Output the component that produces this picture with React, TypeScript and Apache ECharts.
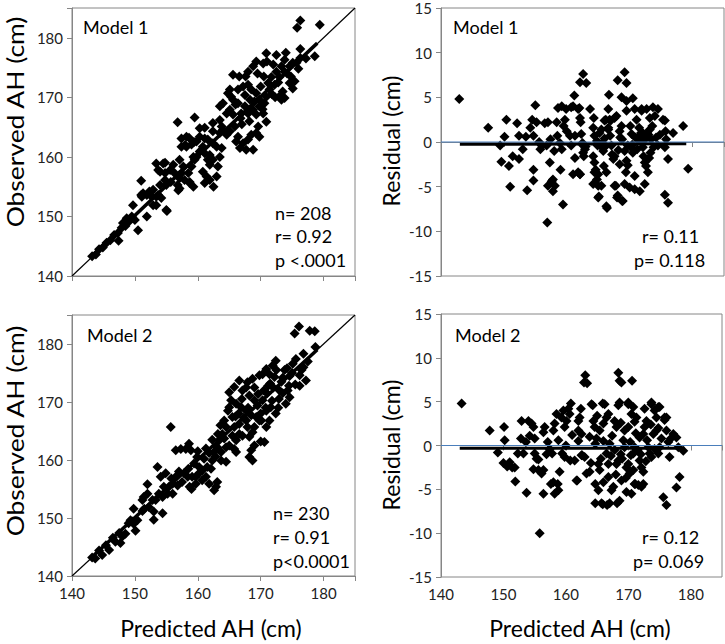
import React, { useEffect, useRef } from "react";
import * as echarts from "echarts";

// ---------- DATA ----------
const xTicks = [140, 150, 160, 170, 180];
const yTicksAH = [140, 150, 160, 170, 180];
const yTicksResid = [-15, -10, -5, 0, 5, 10, 15];

// Model 1: predicted vs observed adult height (cm)
const model1Fit: number[][] = [
  [143.2,143.3],[143.8,143.6],[144.3,144.5],[144.9,144.8],[145.5,145.6],[146.1,146.0],[146.7,146.9],[147.3,147.2],[147.9,148.1],[148.5,148.4],[149.1,149.2],[149.6,149.8],
  [147.4,145.9],[148.1,148.9],[148.7,149.7],[149.5,150.0],[150.0,149.4],[149.7,151.9],[150.5,147.7],[151.9,150.0],[151.0,153.6],[151.0,156.0],
  [151.3,153.9],[151.1,153.3],[152.3,154.2],[152.9,151.9],[153.4,151.9],[152.4,153.6],[151.9,153.6],[152.9,154.5],[153.7,153.6],[153.4,153.3],[154.2,153.1],
  [155.0,155.3],[155.1,150.9],[155.0,151.1],[153.4,158.9],[154.5,158.9],[154.0,157.5],[154.8,157.3],[154.8,156.1],[154.0,155.3],[153.7,157.8],[154.8,159.0],
  [155.7,155.8],[156.1,158.7],[155.6,157.8],[156.3,157.3],[156.8,155.3],[157.1,154.7],[156.9,154.4],[156.8,165.8],[157.1,157.0],[157.1,159.5],[157.4,163.1],
  [157.4,161.7],[158.2,161.7],[158.2,163.4],[159.0,162.1],[157.7,158.4],[157.4,157.3],[157.1,156.4],[157.9,156.1],[158.7,155.6],[159.3,155.0],[158.7,155.8],
  [159.0,158.4],[158.5,157.3],[159.3,160.0],[158.0,162.0],[158.6,163.2],[159.4,162.5],[159.5,166.6],[159.5,159.5],[160.3,164.8],[160.3,163.4],[159.8,162.6],
  [160.8,161.7],[161.1,160.6],[160.3,160.9],[159.8,160.0],[161.9,160.3],[161.6,159.5],[161.9,158.7],[162.4,159.5],[160.8,157.5],[161.4,156.7],[161.9,156.1],
  [161.1,155.6],[162.5,155.0],[163.0,156.7],[163.5,160.0],[163.2,158.4],[163.0,161.7],[163.8,161.5],[161.1,164.9],[162.4,165.7],[163.5,164.0],[162.4,164.3],
  [161.6,162.9],[162.4,162.3],[161.1,163.1],[164.0,164.5],[163.8,165.1],[163.5,166.2],[165.1,167.9],[165.6,167.1],[164.6,167.3],[164.0,169.0],[163.5,168.5],
  [165.1,171.3],[165.3,170.1],[164.8,170.7],[166.4,171.3],[165.6,169.6],[166.4,169.0],[165.9,165.1],[165.1,164.3],[164.6,163.7],[166.4,163.4],[166.1,162.6],
  [167.2,162.3],[166.7,161.5],[168.8,161.2],[167.7,161.2],[168.0,162.9],[168.5,163.7],[169.8,163.4],[169.3,164.0],[169.6,165.1],[170.9,165.9],[169.3,167.1],
  [170.4,167.3],[170.6,169.0],[169.8,168.5],[167.5,168.5],[168.0,167.3],[168.8,167.9],[166.9,167.3],[167.5,170.4],[168.3,169.6],[169.0,169.3],[169.8,169.6],
  [168.5,171.3],[169.3,170.7],[168.0,172.1],[166.6,173.5],[165.6,173.8],[168.0,174.3],[167.6,173.5],[169.3,176.0],[168.8,175.2],[170.4,175.7],[170.9,177.4],
  [172.5,177.1],[171.2,172.4],[172.2,172.1],[171.4,171.3],[170.9,170.1],[173.8,176.3],[173.3,175.2],[172.5,174.3],[171.7,173.4],[173.0,173.4],[173.8,174.3],
  [174.6,172.4],[175.1,171.5],[173.5,171.0],[173.0,170.2],[173.8,169.9],[173.3,169.6],[175.4,172.7],[174.6,175.2],[175.1,175.8],[175.7,175.8],[176.3,176.6],
  [176.3,178.1],[178.6,176.9],[176.3,182.9],[175.8,181.7],[179.4,182.2],[177.2,176.5],[176.0,174.8],[174.2,174.0],[172.0,175.5],[170.5,173.5],[171.8,170.5],
  [172.8,172.5],[174.8,173.5],[167.0,165.5],[168.2,166.0],[166.0,168.8],[167.2,171.8],[170.0,171.8],[174.0,177.5],[171.0,176.0],[169.5,174.0],[172.3,170.0],
  [170.3,168.0],[166.8,166.5]
];

// Model 1: predicted AH vs residual (cm)
const model1Resid: number[][] = [
  [142.9,4.8],[147.5,1.6],[149.4,-0.4],[149.6,-2.2],[150.4,2.5],[150.1,0.6],[150.8,-2.7],[151.0,-5.0],[151.4,-1.6],[152.1,2.1],[152.4,-1.9],[152.4,0.7],
  [153.0,-0.8],[153.5,0.6],[153.7,-5.4],[154.2,1.6],[154.5,2.5],[154.7,0.7],[154.7,-3.1],[154.7,-4.3],[155.0,4.1],[155.2,2.2],[155.6,0.0],[156.0,-0.4],
  [156.5,2.1],[156.8,-0.4],[157.0,2.2],[157.3,-2.3],[157.4,0.3],[157.0,-4.9],[157.6,-4.4],[157.8,-4.2],[158.1,-4.9],[157.8,-5.5],[158.4,2.2],[158.5,0.7],
  [156.9,-9.0],[158.9,-0.1],[159.2,-0.8],[159.0,-3.1],[159.4,-7.0],[158.6,3.8],[159.2,4.0],[159.5,1.8],[159.7,2.5],[159.9,3.7],[160.5,0.7],[160.7,-0.4],
  [161.0,4.0],[161.2,5.2],[161.3,0.7],[161.3,-1.8],[161.0,-3.6],[162.0,3.8],[162.1,2.7],[162.2,2.2],[162.3,0.9],[162.5,-0.1],[162.6,-1.2],[162.7,-1.6],
  [162.1,-3.6],[162.1,6.7],[162.6,7.6],[163.1,6.6],[163.7,3.7],[164.2,1.6],[164.4,0.7],[164.2,-1.6],[164.4,-2.3],[164.6,-3.1],[164.3,2.7],[164.8,-4.2],
  [165.0,-4.9],[164.2,-4.7],[165.1,-6.1],[165.2,1.0],[165.3,-0.4],[165.7,-0.1],[165.8,-1.0],[165.9,-2.7],[166.2,2.5],[166.3,-3.4],[166.4,-7.4],[166.6,1.6],
  [166.6,3.7],[166.7,5.3],[166.9,0.7],[167.1,-0.4],[167.2,-1.4],[167.4,-1.9],[167.6,-1.6],[167.8,-4.9],[167.9,2.9],[168.0,-6.2],[168.1,6.9],[168.4,-2.5],
  [168.5,0.5],[168.7,1.8],[168.8,0.3],[168.8,-6.6],[168.7,5.0],[169.2,7.8],[169.2,-1.0],[169.4,-3.4],[169.5,-2.1],[169.7,-2.6],[169.5,3.5],[169.7,-0.4],
  [169.5,4.6],[169.5,6.6],[170.1,1.8],[170.3,0.9],[170.4,-0.3],[170.5,-1.2],[170.0,-5.1],[170.8,-5.3],[170.5,4.9],[171.1,2.5],[171.5,0.1],[171.6,-5.5],
  [170.8,-3.8],[171.9,3.7],[172.1,-0.6],[172.2,-1.6],[172.5,0.5],[172.8,1.0],[172.4,-2.3],[172.6,-2.7],[172.4,-4.7],[172.9,-3.4],[173.1,-1.8],[173.3,-1.2],
  [173.4,0.3],[173.6,1.8],[173.7,3.9],[174.5,3.7],[174.2,0.5],[174.5,-0.4],[173.2,2.7],[174.0,2.9],[175.3,2.5],[175.6,2.4],[175.6,-0.6],[175.8,0.3],
  [176.1,-1.9],[175.7,1.2],[175.6,-5.9],[176.1,-6.8],[176.9,1.0],[178.5,1.8],[179.3,-3.0],[171.8,1.0],[172.3,0.2],[171.2,-0.8],[170.9,0.5],[173.8,-0.6],
  [174.8,0.8],[163.0,-0.5],[160.0,1.2],[155.8,-0.8],[158.0,-1.0],[166.0,0.4],[164.8,0.1],[168.2,-0.9],[171.5,1.6],[173.0,0.8],[167.0,2.4],[164.4,-3.4],
  [165.0,-3.6],[165.5,-4.9],[167.6,-4.9],[169.2,-4.7],[161.8,-3.4],[162.1,-3.6],[162.6,-0.4],[162.9,-0.8],[164.9,-0.4],[166.0,-0.6],[170.5,-0.8],[171.6,0.7],
  [172.1,1.0],[173.2,1.4],[166.0,2.4],[166.8,2.5],[167.6,2.7],[165.5,1.4],[166.6,1.4],[168.4,1.2],[160.7,3.9],[161.8,3.7],[170.8,3.7],[171.9,3.5],
  [172.7,3.7],[165.0,-6.2],[166.3,-7.2],[168.1,-6.0],[168.9,-6.6]
];

// Model 2: predicted vs observed adult height (cm)
const model2Fit: number[][] = [
  [143.2,143.2],[143.7,143.0],[144.3,144.4],[144.8,143.6],[145.4,145.3],[145.9,144.5],[146.5,146.6],[146.9,145.9],[147.5,147.4],[148.0,146.8],[148.5,147.3],
  [149.0,149.1],[149.6,149.4],[147.7,145.7],[150.1,147.8],[149.3,149.6],[149.8,149.0],[150.4,149.6],[149.8,151.6],[151.2,151.2],[151.5,151.6],[153.0,149.7],
  [154.4,150.8],[152.8,153.1],[152.2,151.9],[153.0,151.1],[152.0,154.2],[151.4,153.6],[151.2,153.1],[152.0,155.8],[153.8,154.2],[154.4,153.6],[153.3,153.1],
  [153.6,158.8],[154.1,157.1],[154.9,157.7],[154.6,155.4],[156.0,155.9],[155.4,155.4],[155.2,154.2],[156.0,154.2],[157.0,158.0],[156.5,157.1],[157.8,157.7],
  [158.4,157.1],[159.1,157.1],[155.7,165.7],[157.3,161.9],[156.5,161.7],[158.6,162.8],[158.1,161.9],[158.9,161.7],[159.9,160.5],[159.4,159.4],[160.2,158.8],
  [160.2,157.7],[159.7,157.1],[160.7,156.5],[161.3,157.1],[161.8,155.9],[162.9,155.4],[162.6,154.8],[163.1,156.2],[159.7,155.9],[159.0,155.0],[158.7,155.4],
  [161.3,162.0],[162.3,159.9],[161.5,158.8],[160.7,158.2],[162.1,158.5],[162.6,161.4],[163.1,162.2],[163.4,163.4],[164.5,162.2],[163.7,161.4],[163.7,159.9],
  [164.5,159.7],[164.5,165.7],[163.9,164.5],[164.2,163.7],[165.0,162.5],[165.8,161.9],[166.1,161.4],[166.1,163.4],[166.6,164.5],[165.5,164.2],[167.7,166.8],
  [166.6,166.2],[165.5,167.4],[165.8,165.7],[167.9,165.7],[167.1,164.2],[168.2,164.0],[169.0,162.5],[168.5,161.7],[168.2,160.5],[168.7,159.9],[170.6,163.1],
  [169.0,165.7],[168.7,164.8],[169.8,166.8],[170.9,165.7],[171.4,166.8],[170.9,168.5],[171.6,169.1],[172.4,168.0],[167.7,168.5],[168.5,167.7],[169.3,167.4],
  [170.1,166.8],[168.2,171.1],[169.0,170.3],[169.5,169.4],[170.3,170.3],[165.3,170.3],[166.1,169.7],[166.9,169.1],[165.0,169.1],[166.6,173.7],[165.8,172.6],
  [165.0,171.7],[167.1,172.0],[167.7,172.5],[168.7,174.0],[167.9,173.4],[170.9,175.7],[170.3,174.8],[169.8,174.6],[172.4,177.1],[171.9,176.3],[171.4,174.8],
  [172.2,174.3],[175.1,176.6],[175.6,177.4],[176.8,176.0],[176.2,174.6],[177.2,173.7],[176.2,172.8],[174.3,172.0],[174.6,170.8],[174.0,169.7],[173.5,171.5],
  [172.9,170.5],[173.3,173.5],[174.6,174.5],[176.1,183.0],[175.4,181.8],[177.8,182.3],[178.6,182.2],[178.7,179.5],[176.8,178.3],[171.0,171.5],[172.0,172.5],
  [171.5,173.2],[170.5,172.0],[173.8,175.5],[175.0,175.0],[170.0,168.0],[172.8,169.0],[174.5,172.8],[176.5,175.5],[177.5,177.0],[169.0,172.5],[166.0,167.5],
  [164.2,166.8],[163.2,164.5],[162.3,163.5],[158.5,158.5],[157.5,156.2],[156.8,155.6],[155.8,156.8],[161.0,160.2],[160.0,161.5],[167.0,170.5],[168.0,169.0],
  [166.5,168.0],[171.8,170.2],[173.0,172.0],[175.5,173.0],[170.0,163.2],[173.5,174.2],[174.2,175.8],[172.5,175.5],[171.2,172.8],[169.6,171.4],[170.8,169.0],
  [167.3,167.3],[164.8,168.5],[163.6,166.0],[162.8,160.6],[161.8,161.2]
];

// Model 2: predicted AH vs residual (cm)
const model2Resid: number[][] = [
  [143.3,4.8],[147.8,1.7],[149.1,-0.8],[150.1,2.1],[150.2,0.6],[150.0,-2.0],[151.0,-1.9],[151.4,-2.5],[151.8,-2.5],[151.9,-4.1],[152.9,2.8],[152.8,0.8],
  [153.2,-0.9],[153.7,-5.4],[154.0,2.8],[154.5,2.5],[154.2,1.1],[154.8,2.1],[155.0,0.8],[154.8,-2.7],[155.0,-0.9],[155.3,-1.5],[155.8,-10.0],[155.6,-2.8],
  [156.1,-3.2],[156.4,-2.8],[156.4,-5.5],[156.4,1.5],[156.6,2.1],[157.1,0.4],[157.4,-0.4],[157.6,-4.4],[158.0,-4.2],[158.0,1.7],[158.2,2.5],[158.5,3.6],
  [158.2,-5.5],[158.7,-4.4],[158.8,-5.1],[159.0,-3.0],[159.3,3.2],[159.6,4.0],[159.4,-0.9],[159.8,-1.3],[159.8,2.1],[160.1,2.8],[160.4,4.2],[160.6,3.6],
  [160.8,4.8],[161.4,-1.7],[161.7,-4.0],[162.0,2.8],[162.2,3.2],[162.0,1.7],[162.5,1.3],[162.4,4.2],[162.5,-1.1],[163.0,-1.3],[162.9,7.2],[163.1,8.0],
  [163.4,7.1],[163.3,-3.2],[163.8,-3.0],[164.1,4.7],[164.4,2.8],[164.6,2.1],[164.7,0.2],[164.9,0.8],[164.7,-4.4],[165.2,-5.1],[164.7,-6.6],[165.7,-6.6],
  [165.2,-2.1],[165.4,-2.8],[165.4,1.7],[166.0,2.5],[166.2,4.7],[166.5,3.2],[166.8,3.6],[166.5,-0.9],[166.8,-2.1],[166.8,-3.6],[167.0,-6.6],[167.3,-5.1],
  [167.6,-4.7],[167.8,2.8],[168.1,2.1],[168.1,-2.1],[168.4,-1.7],[168.4,8.3],[168.6,7.4],[168.9,7.2],[168.6,4.9],[168.6,-6.3],[168.9,-4.0],[169.2,0.6],
  [169.4,-0.2],[169.4,1.7],[170.0,2.1],[169.7,-2.5],[170.0,-2.1],[170.2,-3.2],[169.7,-5.3],[170.5,-5.5],[170.0,4.7],[170.6,7.4],[170.8,4.4],[170.5,3.6],
  [170.8,-0.9],[171.0,-0.2],[171.0,2.7],[171.3,3.2],[171.0,-4.4],[171.6,-4.5],[172.1,-4.7],[171.8,-1.7],[172.1,-2.5],[172.4,-3.0],[171.8,0.9],[172.4,1.3],
  [172.6,2.1],[172.9,2.8],[172.6,4.2],[173.2,-0.2],[173.4,-0.9],[173.7,-1.3],[173.7,4.7],[174.2,4.0],[174.5,3.2],[174.0,1.3],[174.5,1.7],[174.8,4.4],
  [175.0,-0.2],[174.8,-0.9],[175.3,0.8],[175.8,3.2],[176.1,1.7],[176.4,0.4],[175.6,-5.9],[176.1,-6.8],[176.6,-1.3],[177.7,-4.8],[178.2,-3.6],[178.8,-0.6],
  [178.0,-0.2],[177.2,1.3],[177.7,0.9],[165.9,-6.7],[166.6,-6.8],[168.2,-6.6],[161.8,-4.0],[160.7,-1.7],[162.6,-1.1],[171.1,-4.4],[172.4,-4.4],[164.3,4.6],
  [165.9,4.8],[168.4,4.6],[170.0,4.9],[173.7,4.9],[175.0,4.4],[175.8,2.9],[176.1,3.2],[166.0,0.5],[167.0,0.2],[167.8,-0.5],[168.8,-1.0],[170.3,0.4],
  [171.5,-0.5],[172.0,-1.0],[173.0,0.6],[174.2,-0.4],[163.8,1.0],[162.0,0.5],[161.0,1.2],[160.0,0.0],[158.8,0.6],[167.2,-1.2],[169.0,-1.5],[170.4,-1.1],
  [171.2,1.4],[172.8,-1.8],[165.6,-1.5],[164.0,-2.0],[166.0,-4.2],[168.0,-3.3],[169.6,-3.7],[170.8,-2.8],[167.4,1.1],[168.8,2.6],[165.0,3.4],[173.6,2.4],
  [174.8,2.0],[176.8,0.8],[155.6,-1.6],[156.9,-1.0],[157.8,-0.9],[153.6,0.4],[152.3,-0.9],[150.6,-2.4]
];

const fit1Line = [[143, 143.2], [179, 179.1]];
const fit2Line = [[143, 143.1], [179, 179.0]];
const resid1Line = [[143, -0.25], [179, -0.2]];
const resid2Line = [[143, -0.3], [179, -0.3]];
const identityLine = [[140, 140], [185, 185]];
const zeroLine = [[140, 0], [185, 0]];

const FONT = "Lato, 'Open Sans', sans-serif";
const GRAY = "#868686";

export default function App() {
  const ref = useRef<HTMLDivElement>(null);
  useEffect(() => {
    if (!ref.current) return;
    const chart = echarts.init(ref.current, undefined, { renderer: "svg" });

    const grids = [
      { left: 72, top: 8, width: 283, height: 268 },
      { left: 441, top: 8, width: 283, height: 268 },
      { left: 72, top: 315, width: 283, height: 261 },
      { left: 441, top: 314, width: 283, height: 263 },
    ].map((g) => ({ ...g, show: true, borderColor: GRAY, borderWidth: 1, backgroundColor: "transparent" }));

    const xAxis = [0, 1, 2, 3].map((i) => ({
      type: "value",
      gridIndex: i,
      min: xTicks[0],
      max: 185,
      interval: xTicks[1] - xTicks[0],
      splitLine: { show: false },
      axisLine: { lineStyle: { color: GRAY, width: 1 } },
      axisTick: { show: true, inside: false, length: 5, lineStyle: { color: GRAY } },
      axisLabel: {
        show: i >= 2,
        margin: 9,
        fontFamily: FONT,
        fontSize: 15,
        color: "#222",
        formatter: (v: number) => (xTicks.includes(v) ? String(v) : ""),
      },
    }));

    const yAxis = [0, 1, 2, 3].map((i) => {
      const resid = i % 2 === 1;
      const ticks = resid ? yTicksResid : yTicksAH;
      return {
        type: "value",
        gridIndex: i,
        min: ticks[0],
        max: resid ? 15 : 185,
        interval: ticks[1] - ticks[0],
        splitLine: { show: false },
        axisLine: { lineStyle: { color: GRAY, width: 1 } },
        axisTick: { show: true, inside: false, length: 5, lineStyle: { color: GRAY } },
        axisLabel: {
          margin: 9,
          fontFamily: FONT,
          fontSize: 15,
          color: "#222",
          formatter: (v: number) => (ticks.includes(v) ? String(v) : ""),
        },
      };
    });

    const scatter = (idx: number, data: number[][]) => ({
      type: "scatter",
      xAxisIndex: idx,
      yAxisIndex: idx,
      data,
      symbol: "diamond",
      symbolSize: 10,
      itemStyle: { color: "#000", opacity: 1 },
      z: 3,
      silent: true,
    });
    const line = (idx: number, data: number[][], color: string, width: number, z: number) => ({
      type: "line",
      xAxisIndex: idx,
      yAxisIndex: idx,
      data,
      symbol: "none",
      lineStyle: { color, width, opacity: 1 },
      z,
      silent: true,
    });

    const txt = (text: string, x: number, y: number, size: number, extra: any = {}) => ({
      type: "text",
      x,
      y,
      silent: true,
      z: 100,
      ...extra,
      style: {
        text,
        fill: "#000",
        font: `${size}px ${FONT}`,
        align: extra.align || "left",
        verticalAlign: "middle",
      },
    });

    const graphic = [
      txt("Model 1", 83, 27, 18),
      txt("n= 208", 275, 213, 18),
      txt("r= 0.92", 275, 236, 18),
      txt("p <.0001", 275, 260, 18),
      txt("Model 1", 453, 27, 18),
      txt("r= 0.11", 642, 236, 18),
      txt("p= 0.118", 634, 260, 18),
      txt("Model 2", 87, 335, 18),
      txt("n= 230", 273, 513, 18),
      txt("r= 0.91", 273, 537, 18),
      txt("p<0.0001", 273, 561, 18),
      txt("Model 2", 455, 335, 18),
      txt("r= 0.12", 642, 537, 18),
      txt("p= 0.069", 633, 561, 18),
      txt("Observed AH (cm)", 15, 122, 23, { rotation: Math.PI / 2, scaleX: 1.15, align: "center" }),
      txt("Observed AH (cm)", 15, 431, 23, { rotation: Math.PI / 2, scaleX: 1.15, align: "center" }),
      txt("Residual (cm)", 391, 141, 23, { rotation: Math.PI / 2, align: "center" }),
      txt("Residual (cm)", 391, 445, 23, { rotation: Math.PI / 2, align: "center" }),
      txt("Predicted AH (cm)", 211, 628, 23, { align: "center" }),
      txt("Predicted AH (cm)", 580, 628, 23, { align: "center" }),
    ];

    chart.setOption({
      animation: false,
      grid: grids,
      xAxis,
      yAxis,
      series: [
        line(0, identityLine, "#000", 1.2, 2),
        scatter(0, model1Fit),
        line(0, fit1Line, "#000", 3.5, 4),
        scatter(1, model1Resid),
        line(1, resid1Line, "#000", 3, 4),
        line(1, zeroLine, "#4a7ebb", 1.2, 6),
        line(2, identityLine, "#000", 1.2, 2),
        scatter(2, model2Fit),
        line(2, fit2Line, "#000", 3.5, 4),
        scatter(3, model2Resid),
        line(3, resid2Line, "#000", 3, 4),
        line(3, zeroLine, "#4a7ebb", 1.2, 6),
      ],
      graphic,
    });
    return () => chart.dispose();
  }, []);

  return (
    <div
      ref={ref}
      style={{ position: "absolute", left: 0, top: 0, width: 725, height: 644, background: "#fff" }}
    />
  );
}
